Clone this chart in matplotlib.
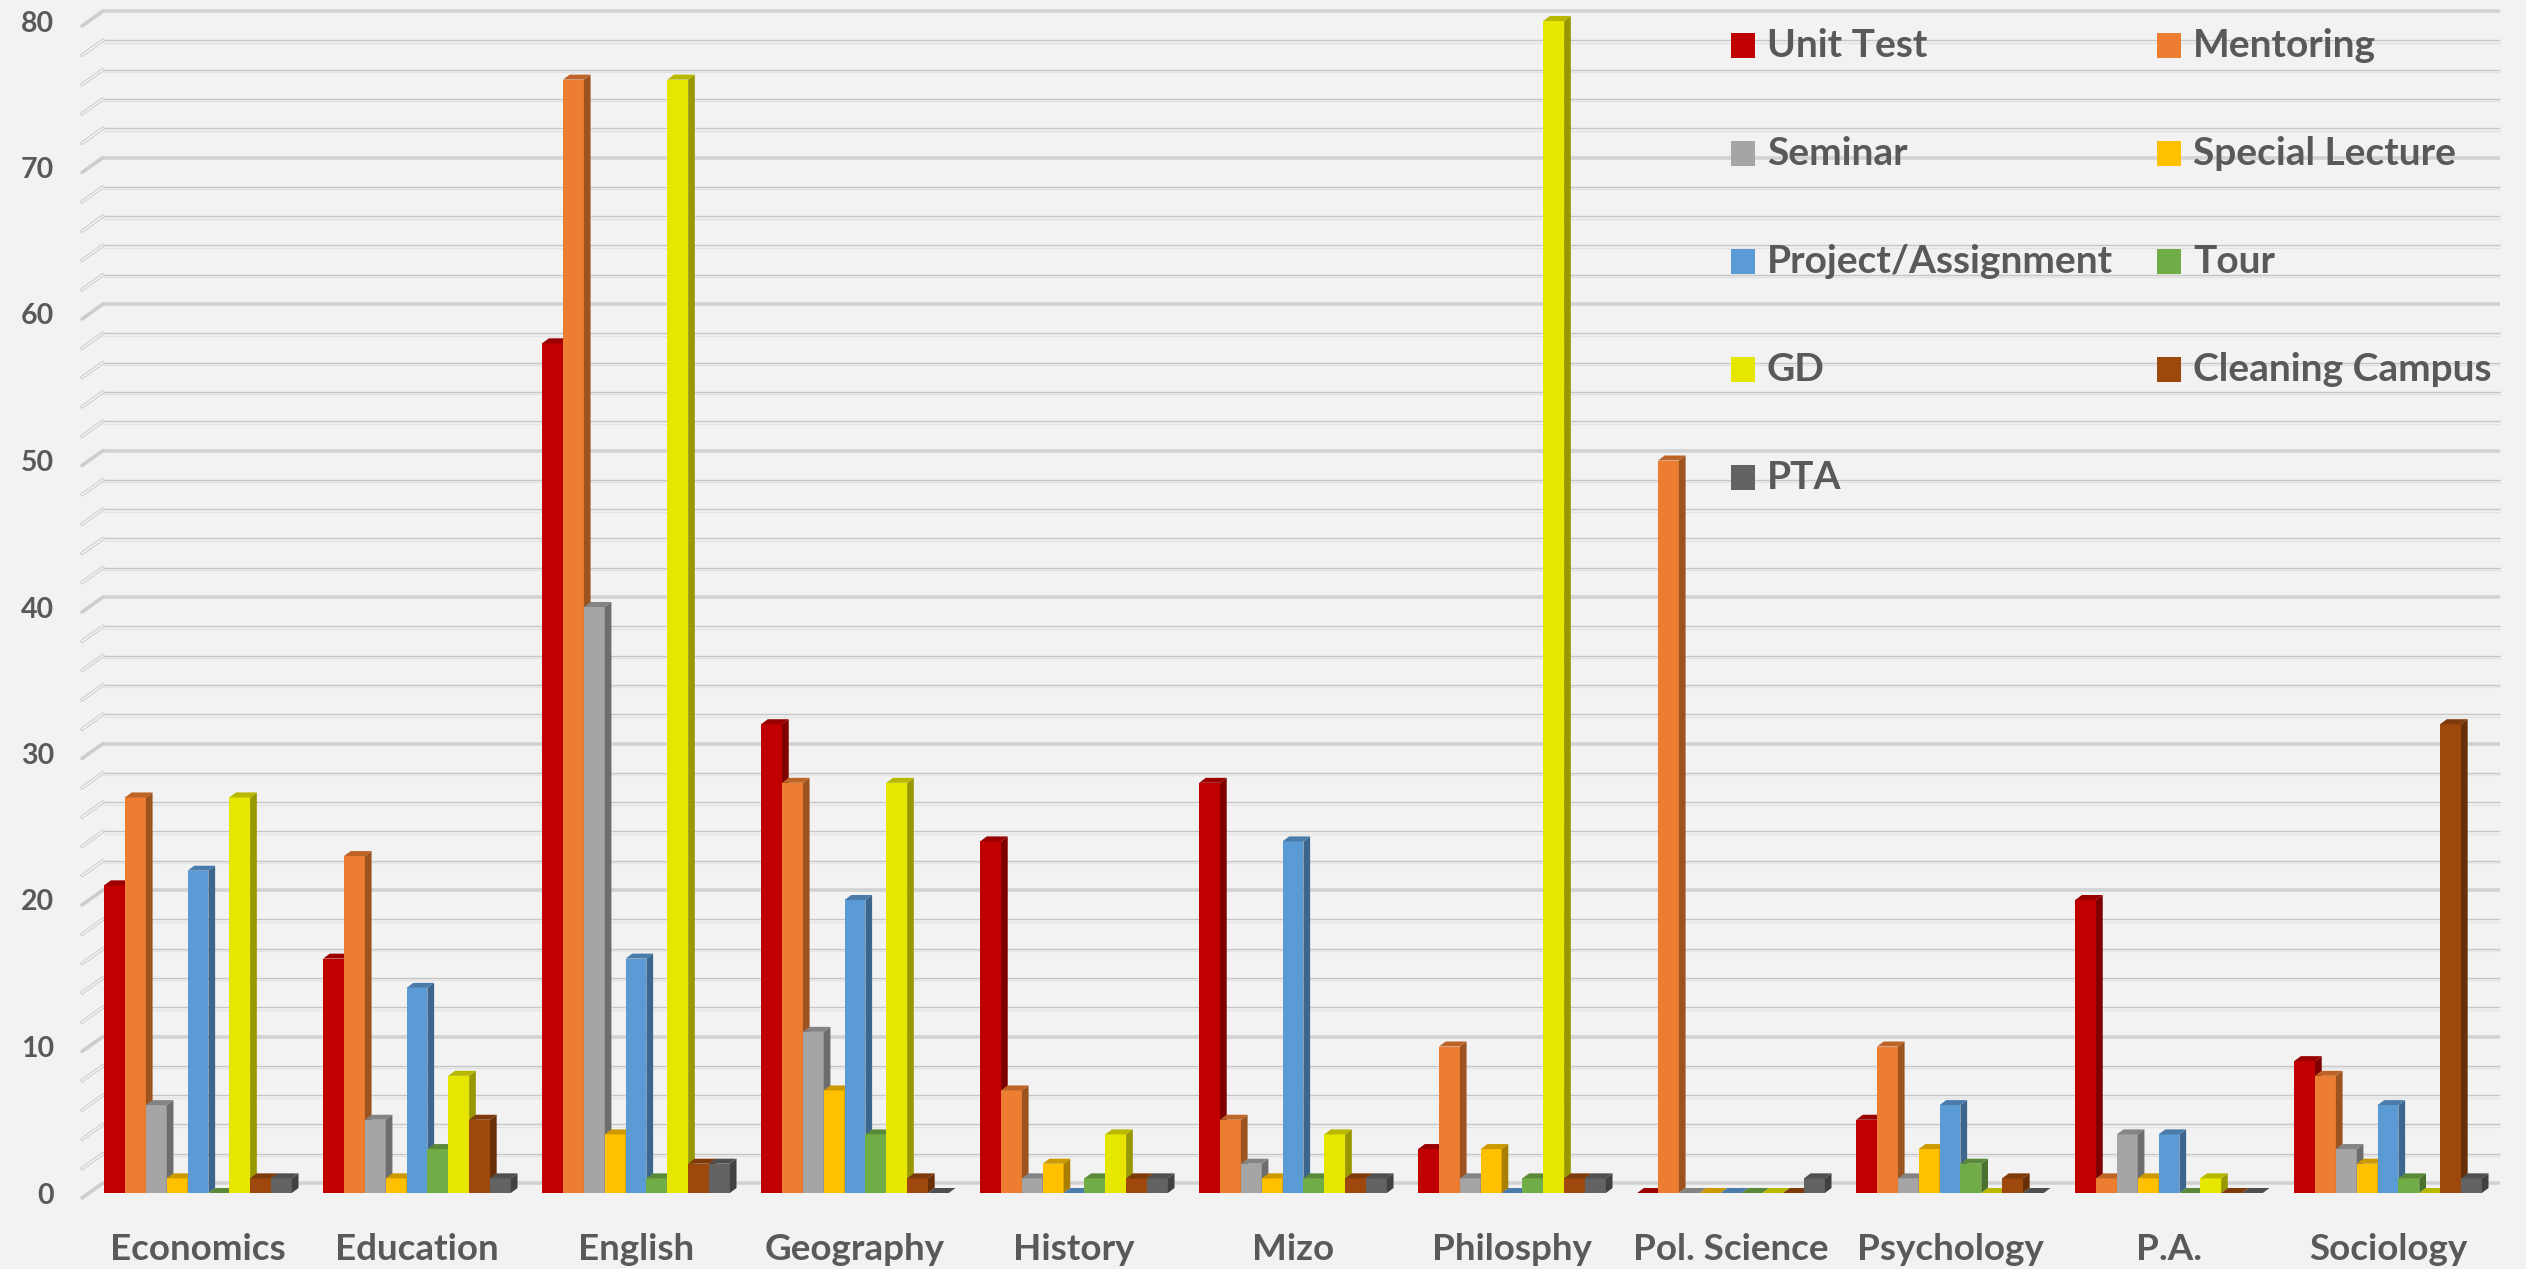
import matplotlib
matplotlib.use('Agg')
import matplotlib.pyplot as plt
from matplotlib.patches import Polygon, Rectangle
from matplotlib.colors import to_rgb
import numpy as np

# ---------------- data ----------------
categories = ['Economics', 'Education', 'English', 'Geography', 'History', 'Mizo',
              'Philosphy', 'Pol. Science', 'Psychology', 'P.A.', 'Sociology']
unit_test = [21, 16, 58, 32, 24, 28, 3, 0, 5, 20, 9]
mentoring = [27, 23, 76, 28, 7, 5, 10, 50, 10, 1, 8]
seminar = [6, 5, 40, 11, 1, 2, 1, 0, 1, 4, 3]
special_lecture = [1, 1, 4, 7, 2, 1, 3, 0, 3, 1, 2]
project_assignment = [22, 14, 16, 20, 0, 24, 0, 0, 6, 4, 6]
tour = [0, 3, 1, 4, 1, 1, 1, 0, 2, 0, 1]
gd = [27, 8, 76, 28, 4, 4, 80, 0, 0, 1, 0]
cleaning_campus = [1, 5, 2, 1, 1, 1, 1, 0, 1, 0, 32]
pta = [1, 1, 2, 0, 1, 1, 1, 1, 0, 0, 1]

series_names = ['Unit Test', 'Mentoring', 'Seminar', 'Special Lecture',
                'Project/Assignment', 'Tour', 'GD', 'Cleaning Campus', 'PTA']
series_values = [unit_test, mentoring, seminar, special_lecture,
                 project_assignment, tour, gd, cleaning_campus, pta]
series_colors = ['#C00000', '#ED7D31', '#A5A5A5', '#FFC000', '#5B9BD5',
                 '#70AD47', '#E6E600', '#9E480E', '#636363']
y_ticks = [0, 10, 20, 30, 40, 50, 60, 70, 80]

# ---------------- figure ----------------
plt.rcParams['font.family'] = ['Lato', 'DejaVu Sans']
W, H, DPI = 2526, 1269, 100
BG = '#F2F2F2'
TXT = '#595959'
fig = plt.figure(figsize=(W / DPI, H / DPI), dpi=DPI, facecolor=BG)

x0_px, cat_px = 198.0, 219.0        # pixel of first category, pixels per category
y0_px, unit_px = 1193.0, 14.65      # pixel (from top) of value 0, pixels per unit
ax_l, ax_r = 100.0, 2510.0
ymax = 80
ax = fig.add_axes([ax_l / W, (H - y0_px) / H, (ax_r - ax_l) / W, ymax * unit_px / H])
ax.set_xlim((ax_l - x0_px) / cat_px, (ax_r - x0_px) / cat_px)
ax.set_ylim(0, ymax)
ax.patch.set_alpha(0)
for sp in ax.spines.values():
    sp.set_visible(False)

# depth parameters (data units)
dx = 6.7 / cat_px
dy = 5.0 / unit_px
wall_dy = 10.0 / unit_px
wall_front_x = (82 - x0_px) / cat_px
wall_back_x = (103 - x0_px) / cat_px
wall_right_x = (2500 - x0_px) / cat_px

# ---------------- gridlines (3D wall) ----------------
for v in range(0, ymax + 1, 2):
    yb = v + wall_dy
    if v % 10 == 0:
        ax.plot([wall_back_x, wall_right_x], [yb, yb], color='#D2D2D2', lw=2.6,
                zorder=1, clip_on=False, solid_capstyle='butt')
        ax.plot([wall_front_x, wall_back_x], [v - dy, yb], color='#CDCDCD', lw=2.6,
                zorder=1, clip_on=False, solid_capstyle='round')
    else:
        ax.plot([wall_back_x, wall_right_x], [yb, yb], color='#C6C6C6', lw=1.0,
                zorder=1, clip_on=False, solid_capstyle='butt')
        ax.plot([wall_back_x, wall_right_x], [yb - 2.5 / unit_px] * 2, color='#E3E3E3',
                lw=1.0, zorder=1, clip_on=False, solid_capstyle='butt')
        ax.plot([wall_front_x, wall_back_x], [v - dy, yb], color='#CFCFCF', lw=2.6,
                zorder=1, clip_on=False, solid_capstyle='round')
        ax.plot([wall_front_x, wall_back_x], [v - dy, yb], color='#F6F6F6', lw=1.0,
                zorder=1.1, clip_on=False, solid_capstyle='round')

# ---------------- 3D bars ----------------
w = 20.85 / cat_px
n = len(series_values)
idx = np.arange(len(categories))
for s, (vals, col) in enumerate(zip(series_values, series_colors)):
    z = 3 + s * 0.1
    xs = idx - n * w / 2 + s * w
    bars = ax.bar(xs, vals, width=w, align='edge', color=col, linewidth=0,
                  zorder=z, clip_on=False)
    rgb = np.array(to_rgb(col))
    for rect in bars:
        xl = rect.get_x()
        xr = xl + rect.get_width()
        h = rect.get_height()
        side = Polygon([(xr, 0), (xr + dx, dy), (xr + dx, h + dy), (xr, h)],
                       closed=True, fc=rgb * 0.66, ec='none', zorder=z, clip_on=False)
        top = Polygon([(xl, h), (xl + dx, h + dy), (xr + dx, h + dy), (xr, h)],
                      closed=True, fc=rgb * 0.8, ec='none', zorder=z, clip_on=False)
        ax.add_patch(side)
        ax.add_patch(top)

# ---------------- axes labels ----------------
ax.set_xticks(idx)
ax.set_xticklabels(categories, fontsize=26.5, fontweight='bold', color=TXT)
ax.tick_params(axis='x', length=0, pad=29)
ax.set_yticks(y_ticks)
ax.set_yticklabels([str(t) for t in y_ticks], fontsize=20.5, fontweight='bold', color=TXT)
ax.tick_params(axis='y', length=0, pad=33)

# ---------------- legend (row-wise, 2 columns) ----------------
col_x = [1731, 2157]
for i, (name, col) in enumerate(zip(series_names, series_colors)):
    r, c = divmod(i, 2)
    mx = col_x[c]
    top_px = 33 + 108 * r
    fig.add_artist(Rectangle((mx / W, 1 - (top_px + 25) / H), 24 / W, 25 / H,
                             transform=fig.transFigure, facecolor=col, edgecolor='none'))
    fig.text((mx + 36) / W, 1 - (57 + 108 * r) / H, name, ha='left', va='baseline',
             fontsize=28, fontweight='bold', color=TXT)

fig.savefig('out.png', dpi=DPI, facecolor=BG)
